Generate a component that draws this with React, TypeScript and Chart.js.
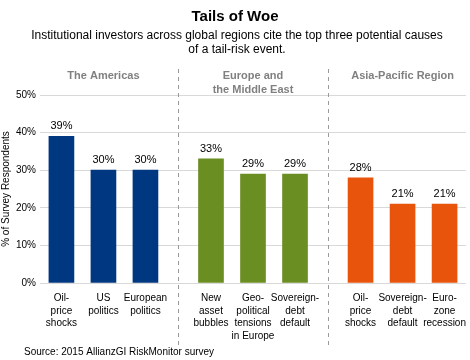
import { useEffect, useRef } from "react";
import { Chart, registerables } from "chart.js";

Chart.register(...registerables);

const TITLE = "Tails of Woe";
const SUBTITLE = [
  "Institutional investors across global regions cite the top three potential causes",
  "of a tail-risk event.",
];
const REGIONS = [["The Americas"], ["Europe and", "the Middle East"], ["Asia-Pacific Region"]];

const AMERICAS_LABELS = [["Oil-", "price", "shocks"], ["US", "politics"], ["European", "politics"]];
const AMERICAS_VALUES = [39, 30, 30];
const EUROPE_LABELS = [["New", "asset", "bubbles"], ["Geo-", "political", "tensions", "in Europe"], ["Sovereign-", "debt", "default"]];
const EUROPE_VALUES = [33, 29, 29];
const ASIA_LABELS = [["Oil-", "price", "shocks"], ["Sovereign-", "debt", "default"], ["Euro-", "zone", "recession"]];
const ASIA_VALUES = [28, 21, 21];

const Y_MAX = 50;
const Y_STEP = 10;
const Y_TITLE = "% of Survey Respondents";
const SOURCE = "Source: 2015 AllianzGI RiskMonitor survey";

const FONT = "'Liberation Sans', Arial, sans-serif";
const COLORS = ["#003781", "#6b8e23", "#e8540c"];
const GROUP_STEP = 3.56;

export default function App() {
  const ref = useRef<HTMLCanvasElement | null>(null);

  useEffect(() => {
    document.body.style.margin = "0";
    const groups = [
      { labels: AMERICAS_LABELS, values: AMERICAS_VALUES },
      { labels: EUROPE_LABELS, values: EUROPE_VALUES },
      { labels: ASIA_LABELS, values: ASIA_VALUES },
    ];
    const points: { x: number; y: number }[] = [];
    const colors: string[] = [];
    const labels: string[][] = [];
    groups.forEach((g, gi) => {
      g.values.forEach((v, i) => {
        points.push({ x: gi * GROUP_STEP + i, y: v });
        colors.push(COLORS[gi]);
        labels.push(g.labels[i]);
      });
    });
    const positions = points.map((p) => p.x);
    const groupCenters = groups.map((_, gi) => gi * GROUP_STEP + 1);
    const separators = [0, 1].map((gi) => (gi * GROUP_STEP + 2 + (gi + 1) * GROUP_STEP) / 2);

    const textPlugin = {
      id: "texts",
      afterDatasetsDraw(chart: any) {
        const ctx = chart.ctx;
        const xs = chart.scales.x;
        ctx.save();
        ctx.textAlign = "center";
        ctx.textBaseline = "middle";
        ctx.fillStyle = "#000";
        ctx.font = `bold 15px ${FONT}`;
        ctx.fillText(TITLE, 235, 17);
        ctx.font = `12px ${FONT}`;
        SUBTITLE.forEach((s, i) => ctx.fillText(s, 237, 36 + i * 13.5));

        ctx.font = `bold 11px ${FONT}`;
        ctx.fillStyle = "#808080";
        REGIONS.forEach((lines, gi) => {
          const cx = xs.getPixelForValue(groupCenters[gi]);
          lines.forEach((l, li) => ctx.fillText(l, cx, 76 + li * 14));
        });

        ctx.strokeStyle = "#9a9a9a";
        ctx.lineWidth = 1;
        ctx.setLineDash([4, 4]);
        separators.forEach((s) => {
          const px = Math.round(xs.getPixelForValue(s)) + 0.5;
          ctx.beginPath();
          ctx.moveTo(px, 69);
          ctx.lineTo(px, 346);
          ctx.stroke();
        });
        ctx.setLineDash([]);

        ctx.fillStyle = "#000";
        ctx.font = `11px ${FONT}`;
        const meta = chart.getDatasetMeta(0);
        meta.data.forEach((bar: any, i: number) => {
          ctx.fillText(`${points[i].y}%`, bar.x, bar.y - 10);
        });

        ctx.textAlign = "left";
        ctx.font = `10px ${FONT}`;
        ctx.fillText(SOURCE, 24, 352);
        ctx.restore();
      },
    };

    const chart = new Chart(ref.current as HTMLCanvasElement, {
      type: "bar",
      data: {
        datasets: [
          {
            data: points as any,
            backgroundColor: colors,
            borderWidth: 0,
            barThickness: 25,
          },
        ],
      },
      options: {
        animation: false,
        responsive: true,
        maintainAspectRatio: false,
        layout: { padding: { top: 95, right: 4, bottom: 17, left: 0 } },
        plugins: { legend: { display: false }, tooltip: { enabled: false } },
        scales: {
          x: {
            type: "linear",
            offset: false,
            min: -0.51,
            max: 9.63,
            grid: { display: false, offset: false },
            border: { display: false },
            afterBuildTicks: (scale: any) => {
              scale.ticks = positions.map((v) => ({ value: v }));
            },
            afterFit: (scale: any) => {
              scale.height = 60;
            },
            ticks: {
              autoSkip: false,
              maxRotation: 0,
              padding: 1,
              color: "#000",
              font: { family: FONT, size: 10, lineHeight: 1.25 },
              callback: (_v: any, i: number) => labels[i],
            },
          },
          y: {
            min: 0,
            max: Y_MAX,
            grid: { color: "#d9d9d9", drawTicks: false },
            border: { display: false },
            afterFit: (scale: any) => {
              scale.width = 40;
            },
            ticks: {
              stepSize: Y_STEP,
              padding: 4,
              color: "#000",
              font: { family: FONT, size: 10 },
              callback: (v: any) => `${v}%`,
            },
            title: {
              display: true,
              text: Y_TITLE,
              color: "#000",
              padding: 0,
              font: { family: FONT, size: 10 },
            },
          },
        },
      },
      plugins: [textPlugin],
    });
    return () => chart.destroy();
  }, []);

  return (
    <div style={{ width: 470, height: 360, position: "relative" }}>
      <canvas ref={ref} />
    </div>
  );
}
